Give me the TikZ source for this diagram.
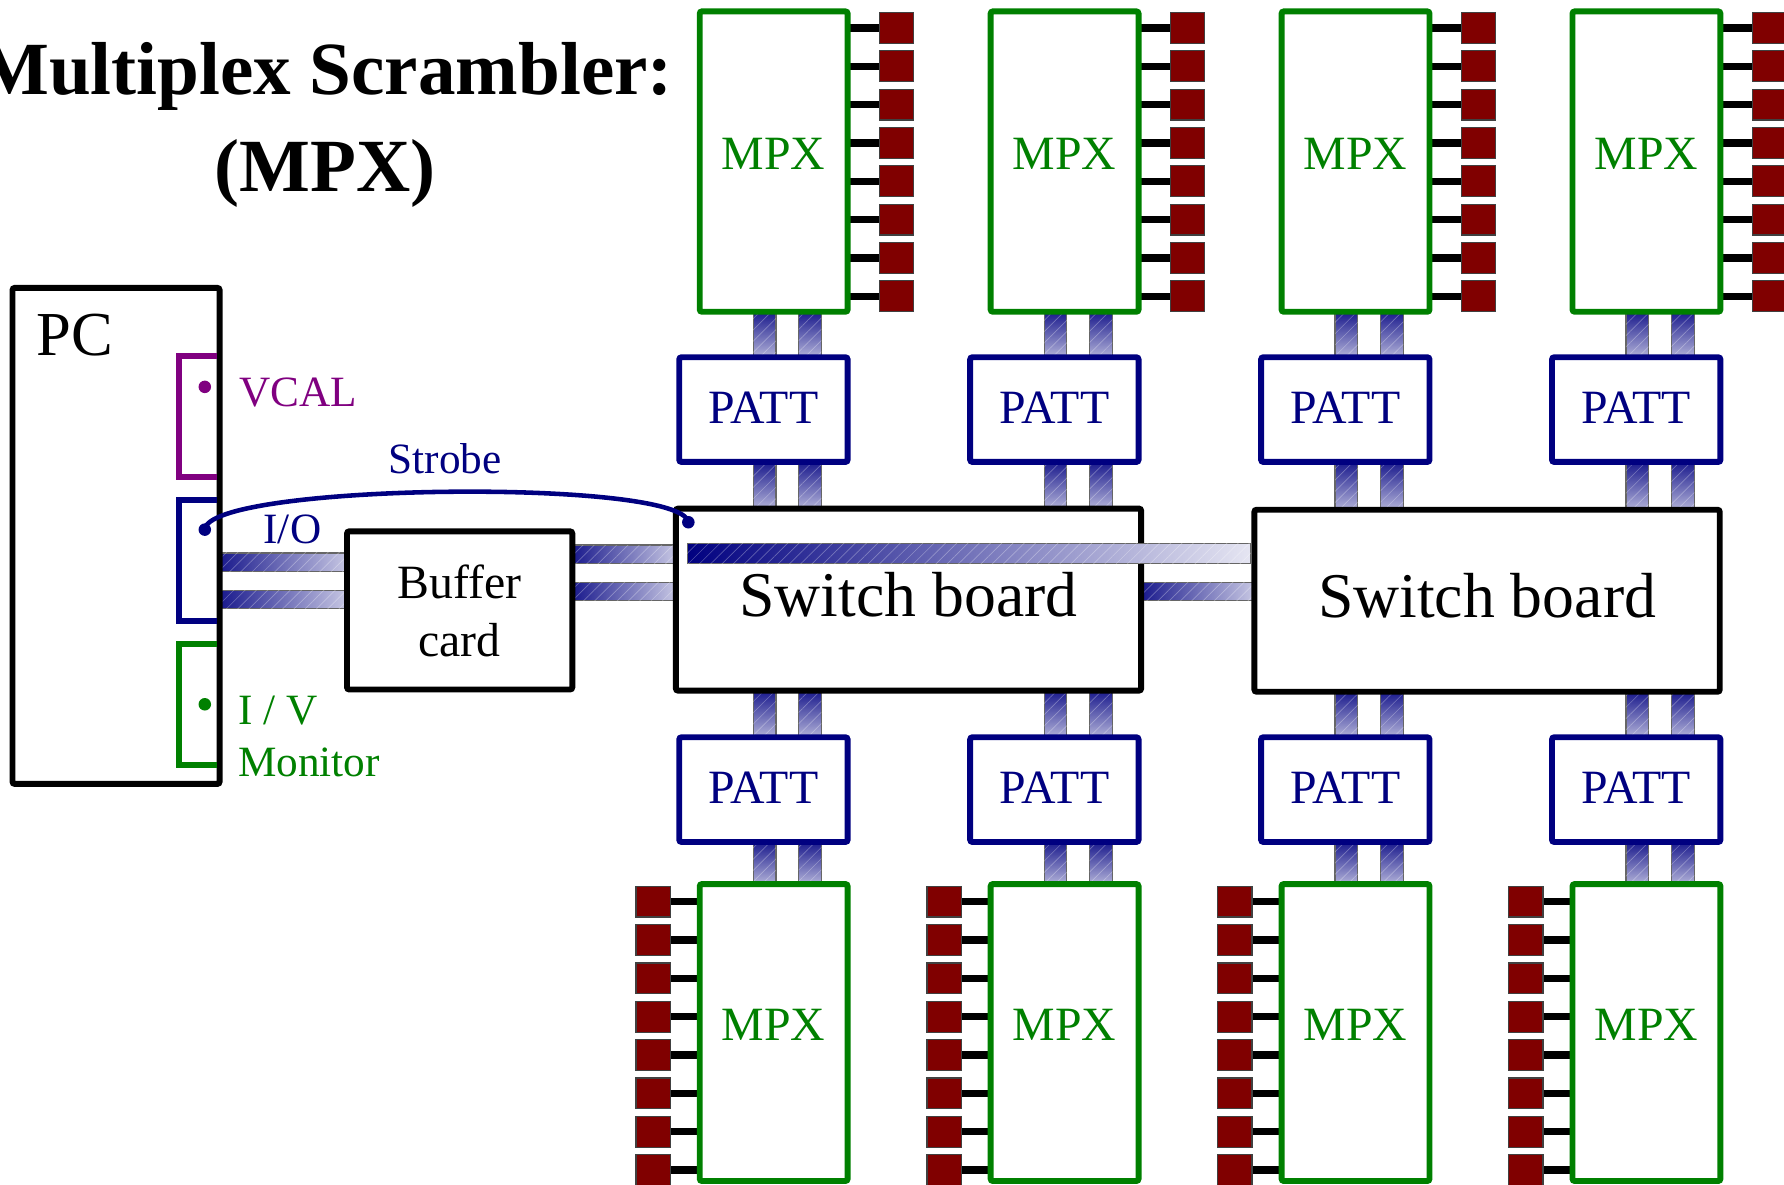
\documentclass[tikz,border=0pt]{standalone}
\usepackage{fontspec}
\setmainfont{Liberation Serif}
\usetikzlibrary{
    positioning,
    calc,
    backgrounds,
    patterns.meta,
}

\definecolor{mpxgreen}{RGB}{0,128,0}
\definecolor{pattblue}{RGB}{0,0,128}
\definecolor{vcalpurple}{RGB}{128,0,128}
\definecolor{pinred}{RGB}{128,0,0}

\begin{document}
\begin{tikzpicture}[
    x=0.5pt, y=-0.5pt,
    box/.style={draw, line width=2.6pt, rounded corners=1pt, fill=white, inner sep=0pt, outer sep=0pt},
    mpx/.style={box, draw=mpxgreen, text=mpxgreen, minimum width=65pt, minimum height=132pt,
                text depth=6.5pt, font=\fontsize{21}{25}\selectfont},
    patt/.style={box, draw=pattblue, text=pattblue, minimum width=74pt, minimum height=46pt,
                text depth=2pt, font=\fontsize{21}{25}\selectfont},
    switchboard/.style={box, minimum width=204.5pt, minimum height=80pt, text depth=5pt,
                font=\fontsize{28}{32}\selectfont},
    buffer/.style={box, align=center, minimum width=99pt, minimum height=69.5pt,
                font=\fontsize{21}{25.5}\selectfont},
    pcbox/.style={box, minimum width=91pt, minimum height=218pt},
    port/.style={inner sep=0pt, outer sep=0pt, minimum width=17pt, minimum height=53pt},
    portline/.style={line width=2.6pt},
    dot/.style={circle, inner sep=0pt, outer sep=0pt, minimum size=5.5pt},
    pinpad/.style={draw=black!75, line width=0.5pt, fill=pinred, inner sep=0pt, outer sep=0pt,
                minimum width=15pt, minimum height=13.5pt},
    pinwire/.style={line width=3.2pt},
    cable/.style={draw=black!60, line width=0.5pt,
                postaction={opacity=0.3, pattern={Lines[angle=45, distance=3.5pt, line width=0.3pt]}, pattern color=white}},
    cablev/.style={cable, top color=pattblue!90, bottom color=pattblue!30},
    cableh/.style={cable, left color=pattblue!90, right color=pattblue!22},
    strobe/.style={draw=pattblue, line width=2pt},
    labeltext/.style={inner sep=0pt, font=\fontsize{19}{23}\selectfont},
    titletext/.style={inner sep=0pt, font=\bfseries\fontsize{33}{40}\selectfont},
]

\useasboundingbox (0,0) rectangle (1568,1041);

% title
\node[titletext, anchor=base] (title) at (286,83) {Multiplex Scrambler:};
\node[titletext, anchor=base] (titlempx) at (286,168) {(MPX)};

% PC with its three ports
\node[pcbox] (pc) at (102,471) {};
\node[labeltext, font=\fontsize{27.5}{32}\selectfont, anchor=north west] (pclabel) at ($(pc.north west)+(21,23)$) {PC};

\node[port] (vcal) at (174,366) {};
\node[port] (io) at (174,492.5) {};
\node[port] (mon) at (174,619) {};
\draw[portline, vcalpurple] (vcal.north east) -- (vcal.north west) -- (vcal.south west) -- (vcal.south east);
\draw[portline, pattblue] (io.north east) -- (io.north west) -- (io.south west) -- (io.south east);
\draw[portline, mpxgreen] (mon.north east) -- (mon.north west) -- (mon.south west) -- (mon.south east);

\node[dot, fill=vcalpurple] (vcaldot) at ($(vcal.north)+(6,27)$) {};
\node[dot, fill=pattblue] (iodot) at ($(io.north)+(6,26)$) {};
\node[dot, fill=mpxgreen] (mondot) at ($(mon.center)+(6,0)$) {};

\node[labeltext, vcalpurple, anchor=west] (vcallabel) at (210,345) {VCAL};
\node[labeltext, pattblue] (iolabel) at (257,465) {I/O};
\node[labeltext, mpxgreen, align=left, anchor=north west] (monlabel) at (209,611) {I / V\\Monitor};

% buffer and switch boards
\node[buffer] (buffer) at (404,536.5) {Buffer\\card};
\node[switchboard] (sbA) at (798.5,527) {Switch board};
\node[switchboard] (sbB) at (1307,528) {Switch board};

% MPX / PATT columns
\foreach \i in {1,...,4} {
    \pgfmathsetmacro\bx{597+255.7*(\i-1)}
    \node[mpx] (mpxT\i) at (\bx+83,142) {MPX};
    \node[patt] (pattT\i) at (\bx+74,360) {PATT};
    \node[patt] (pattB\i) at (\bx+74,694) {PATT};
    \node[mpx, minimum height=130.5pt] (mpxB\i) at (\bx+83,907.5) {MPX};
    \foreach \k in {0,...,7} {
        \node[pinpad] (padT\i\k) at (\bx+191,24.5+33.7*\k) {};
        \node[pinpad] (padB\i\k) at (\bx-23,792.5+33.7*\k) {};
    }
}

% strobe line
\node[dot, fill=pattblue] (sbdot) at ($(sbA.north west)+(11,12)$) {};
\draw[strobe] (iodot.center) .. controls +(2,-41) and +(-5,-39) .. (sbdot.center)
    node[labeltext, pattblue, midway, above=7pt] (strobelabel) {Strobe};

\begin{scope}[on background layer]
    \draw[cableh] (pc.east |- 0,486) rectangle (buffer.west |- 0,502);
    \draw[cableh] (pc.east |- 0,519) rectangle (buffer.west |- 0,535);
    \draw[cableh] (buffer.east |- 0,479) rectangle (sbA.west |- 0,495);
    \draw[cableh] (buffer.east |- 0,512) rectangle (sbA.west |- 0,528);
    \draw[cableh] (sbA.east |- 0,512) rectangle (sbB.west |- 0,528);
    \foreach \i/\sb in {1/sbA,2/sbA,3/sbB,4/sbB} {
        \pgfmathsetmacro\bx{597+255.7*(\i-1)}
        \foreach \dx in {65,105} {
            \pgfmathsetmacro\xl{\bx+\dx}
            \pgfmathsetmacro\xr{\bx+\dx+20}
            \draw[cablev] (\xl,0 |- mpxT\i.south) rectangle (\xr,0 |- pattT\i.north);
            \draw[cablev] (\xl,0 |- pattT\i.south) rectangle (\xr,0 |- \sb.north);
            \draw[cablev] (\xl,0 |- \sb.south) rectangle (\xr,0 |- pattB\i.north);
            \draw[cablev] (\xl,0 |- pattB\i.south) rectangle (\xr,0 |- mpxB\i.north);
        }
        \foreach \k in {0,...,7} {
            \draw[pinwire] (padT\i\k.west) -- (padT\i\k.west -| mpxT\i.east);
            \draw[pinwire] (padB\i\k.east) -- (padB\i\k.east -| mpxB\i.west);
        }
    }
\end{scope}

% bus across the first switch board
\draw[cableh, left color=pattblue, right color=pattblue!10] ($(sbA.west |- 0,478)+(10,0)$) rectangle ($(sbB.west |- 0,495)+(-3,0)$);

\end{tikzpicture}
\end{document}
